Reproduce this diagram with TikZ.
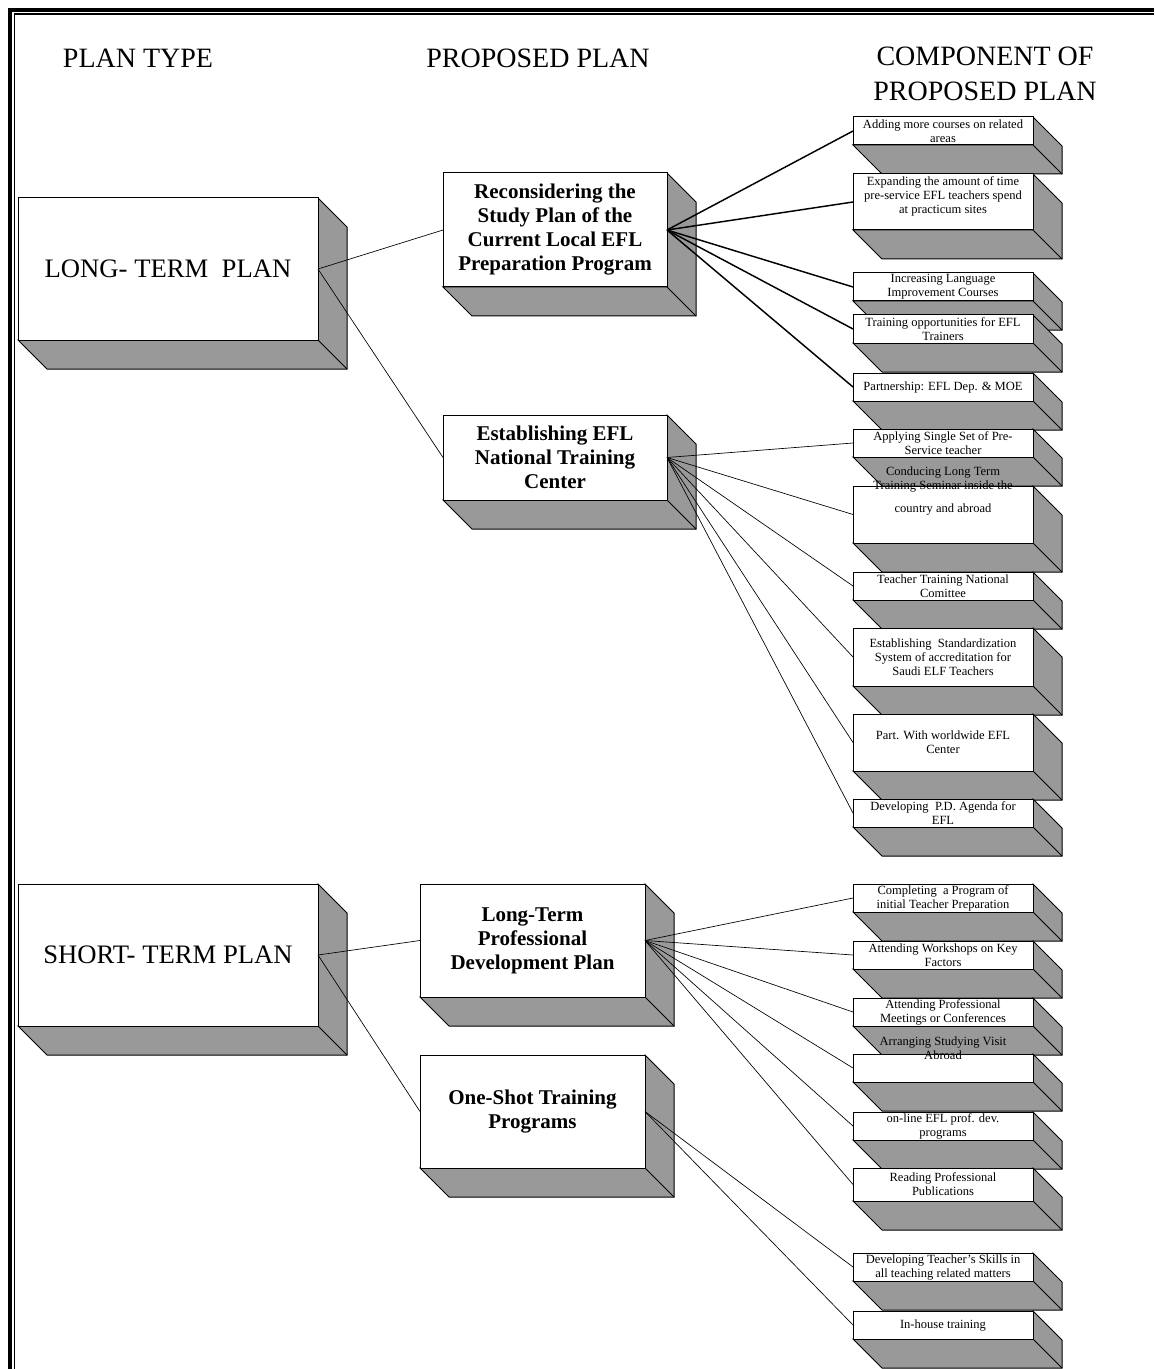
\documentclass[tikz,border=0pt]{standalone}
\usepackage{fontspec}
\setmainfont{Liberation Serif}
\usepackage{tikz}
\definecolor{slabgray}{HTML}{999999}

\begin{document}
\begin{tikzpicture}[
            x = 0.75pt, y = -0.75pt, % one unit is one pixel, y runs down
            line width = 0.75pt % line style
        ]

        \tikzstyle{slab}=[
            draw = black,
            fill = white,
            inner sep = 0pt,
            outer sep = 0pt,
            anchor = north west,
            align = center,
            append after command = {\pgfextra{
              \filldraw[fill = slabgray, draw = black]
                (\tikzlastnode.north east) -- ([shift={(29,29)}]\tikzlastnode.north east)
                -- ([shift={(29,29)}]\tikzlastnode.south east)
                -- ([shift={(29,29)}]\tikzlastnode.south west)
                -- (\tikzlastnode.south west) -- (\tikzlastnode.south east) -- cycle;
              \draw (\tikzlastnode.south east) -- ([shift={(29,29)}]\tikzlastnode.south east);
            }}
        ]
        \tikzstyle{typebox}=[slab, minimum width = 225pt, minimum height = 106.5pt,
            font = \fontsize{20}{24}\selectfont]
        \tikzstyle{planbox}=[slab, minimum width = 168pt, minimum height = 84.75pt,
            font = \fontsize{15.75}{18}\selectfont\bfseries]
        \tikzstyle{compbox}=[slab, minimum width = 135pt, minimum height = 21pt,
            font = \fontsize{9.4}{10.5}\selectfont]
        \tikzstyle{comptext}=[align = center, inner sep = 0pt, font = \fontsize{9.4}{10.5}\selectfont]
        \tikzstyle{heading}=[align = center, font = \fontsize{21}{26.25}\selectfont]
        \tikzstyle{link}=[draw = black, line width = 0.5pt]
        \tikzstyle{boldlink}=[draw = black, line width = 1.1pt]

\useasboundingbox (0,0) rectangle (1154,1369);

% frame
\draw[line width = 2.8pt] (10.2,1369) -- (10.2,10.2) -- (1154,10.2);
\draw[line width = 1.2pt] (14.3,1369) -- (14.3,14.3) -- (1154,14.3);

% headings
\node[heading] (typehead) at (138,58) {PLAN TYPE};
\node[heading] (planhead) at (538,58) {PROPOSED PLAN};
\node[heading] (comphead) at (985,74) {COMPONENT OF\\PROPOSED PLAN};

% plan type
\node[typebox] (lt) at (18,198) {LONG- TERM~~PLAN};
\node[typebox] (st) at (18,884) {SHORT- TERM PLAN};

% proposed plan
\node[planbox, minimum height = 85.5pt] (recon) at (443,173) {Reconsidering the\\Study Plan of the\\Current Local EFL\\Preparation Program};
\node[planbox, minimum height = 63.75pt] (estab) at (443,415) {Establishing EFL\\National Training\\Center};
\node[planbox, minimum width = 168.75pt] (ltpd) at (420,884) {Long-Term\\Professional\\Development Plan};
\node[planbox, minimum width = 168.75pt] (oneshot) at (420,1055) {One-Shot Training\\Programs};

% components of the long-term plan
\node[compbox] (courses) at (853,117) {Adding more courses on related\\areas};
\node[compbox, minimum height = 42pt] (practicum) at (853,174) {Expanding the amount of time\\pre-service EFL teachers spend\\at practicum sites\\\mbox{}};
\node[compbox] (language) at (853,273) {Increasing Language\\Improvement Courses};
\node[compbox] (trainers) at (853,315) {Training opportunities for EFL\\Trainers};
\node[compbox] (partner) at (853,373) {Partnership: EFL Dep. \& MOE};
\node[compbox] (singleset) at (853,429) {Applying Single Set of Pre-\\Service teacher};
\node[compbox, minimum height = 42.75pt] (seminar) at (853,486) {};
\node[compbox] (committee) at (853,572) {Teacher Training National\\Comittee};
\node[compbox, minimum height = 43.5pt] (accredit) at (853,628) {Establishing~ Standardization\\System of accreditation for\\Saudi ELF Teachers};
\node[compbox, minimum height = 42.75pt] (worldwide) at (853,714) {Part. With worldwide EFL\\Center};
\node[compbox] (agenda) at (853,799) {Developing~ P.D. Agenda for\\EFL};

% components of the short-term plan
\node[compbox] (initial) at (853,884) {Completing~ a Program of\\initial Teacher Preparation};
\node[compbox] (workshops) at (853,941) {Attending Workshops on Key\\Factors};
\node[compbox] (meetings) at (853,998) {Attending Professional\\Meetings or Conferences};
\node[compbox] (visit) at (853,1054) {};
\node[compbox] (online) at (853,1112) {on-line EFL prof. dev.\\programs};
\node[compbox, minimum height = 24.75pt] (reading) at (853,1168) {Reading Professional\\Publications};
\node[compbox] (skills) at (853,1253) {Developing Teacher's Skills in\\all teaching related matters};
\node[compbox] (inhouse) at (853,1311) {In-house training};

% texts that run over their boxes
\node[comptext, anchor = north] (seminartxt) at (943,466) {Conducing Long Term\\Training Seminar inside the\\[6.75pt]country and abroad};
\node[comptext] (visittxt) at (943,1048) {Arranging Studying Visit\\Abroad};

% connectors
 \path [link] (lt.east) edge (recon.west);
 \path [link] (lt.east) edge (estab.west);
 \path [link] (st.east) edge (ltpd.west);
 \path [link] (st.east) edge (oneshot.west);

 \path [boldlink] (recon.east) edge (courses.west);
 \path [boldlink] (recon.east) edge (practicum.west);
 \path [boldlink] (recon.east) edge (language.west);
 \path [boldlink] (recon.east) edge (trainers.west);
 \path [boldlink] (recon.east) edge (partner.west);

 \path [link] (estab.east) edge (singleset.west);
 \path [link] (estab.east) edge (seminar.west);
 \path [link] (estab.east) edge (committee.west);
 \path [link] (estab.east) edge (accredit.west);
 \path [link] (estab.east) edge (worldwide.west);
 \path [link] (estab.east) edge (agenda.west);

 \path [link] (ltpd.east) edge (initial.west);
 \path [link] (ltpd.east) edge (workshops.west);
 \path [link] (ltpd.east) edge (meetings.west);
 \path [link] (ltpd.east) edge (visit.west);
 \path [link] (ltpd.east) edge (online.west);
 \path [link] (ltpd.east) edge (reading.west);

 \path [link] (oneshot.east) edge (skills.west);
 \path [link] (oneshot.east) edge (inhouse.west);
\end{tikzpicture}
\end{document}
